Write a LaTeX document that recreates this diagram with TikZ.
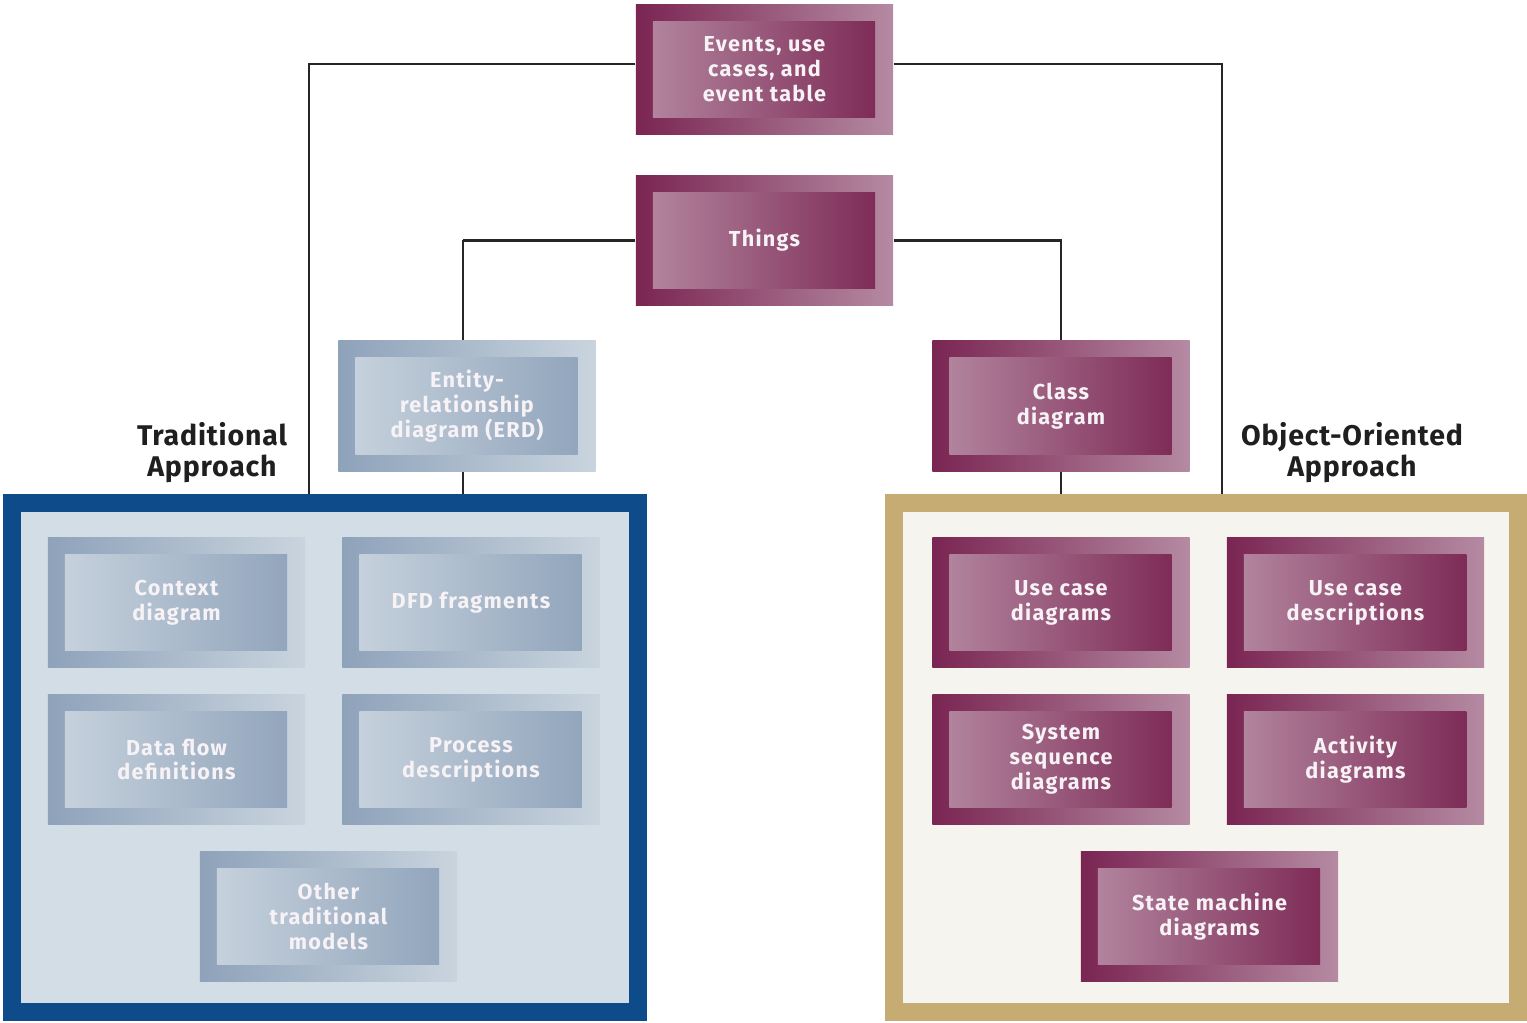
\documentclass[tikz,border=0pt]{standalone}
\usepackage{fontspec}
\setmainfont{Fira Sans}[LetterSpace=6]
\definecolor{pdark}{HTML}{7A2552}
\definecolor{plight}{HTML}{B58AA2}
\definecolor{bdark}{HTML}{8EA2BA}
\definecolor{blight}{HTML}{C9D4DE}
\definecolor{tradblue}{HTML}{0D4B8B}
\definecolor{tradfill}{HTML}{D3DDE6}
\definecolor{ootan}{HTML}{C6AB72}
\definecolor{oofill}{HTML}{F6F4EE}
\definecolor{txt}{HTML}{F7F2F5}
\begin{document}
\begin{tikzpicture}[x=0.02cm,y=-0.02cm,
  gbox/.style n args={2}{rectangle, minimum width=5.15cm, minimum height=2.62cm,
    inner sep=0pt, left color=#1, right color=#2, text=txt, align=center,
    font=\fontsize{12.3}{14.2}\selectfont\bfseries,
    path picture={\shade[left color=#2, right color=#1]
      ([shift={(0.34cm,-0.34cm)}]path picture bounding box.north west) rectangle
      ([shift={(-0.36cm,0.34cm)}]path picture bounding box.south east);}},
  pbox/.style={gbox={pdark}{plight}},
  bbox/.style={gbox={bdark}{blight}},
  frame/.style={rectangle, line width=0.37cm, minimum width=12.52cm, minimum height=10.18cm, inner sep=0pt},
  conn/.style={line width=1.4pt, black!85},
  title/.style={font=\fontsize{16.2}{17.6}\selectfont\bfseries\addfontfeatures{LetterSpace=3}, align=center, text=black!88}
]
\useasboundingbox[fill=white] (0,0) rectangle (1527,1023);

\node[frame, draw=tradblue, fill=tradfill] (trad) at (325,757.5) {};
\node[frame, draw=ootan, fill=oofill, minimum width=12.48cm] (oo) at (1206,757.5) {};

\node[pbox] (events) at (764.5,69.5) {Events, use\\cases, and\\event table};
\node[pbox] (things) at (764.5,240.5) {Things};
\node[bbox] (erd) at (467,406) {Entity-\\relationship\\diagram (ERD)};
\node[pbox] (class) at (1061,406) {Class\\diagram};

\node[bbox] (context) at (176.5,602.5) {Context\\diagram};
\node[bbox] (dfd) at (471,602.5) {DFD fragments};
\node[bbox] (dataflow) at (176.5,759.5) {Data flow\\definitions};
\node[bbox] (process) at (471,759.5) {Process\\descriptions};
\node[bbox] (other) at (328.5,916.5) {Other\\traditional\\models};

\node[pbox] (ucd) at (1061,602.5) {Use case\\diagrams};
\node[pbox] (ucdesc) at (1355.5,602.5) {Use case\\descriptions};
\node[pbox] (ssd) at (1061,759.5) {System\\sequence\\diagrams};
\node[pbox] (act) at (1355.5,759.5) {Activity\\diagrams};
\node[pbox] (smd) at (1209.5,916.5) {State machine\\diagrams};

\node[title] (tradlabel) at (212,453) {Traditional\\Approach};
\node[title] (oolabel) at (1352,453) {Object-Oriented\\Approach};

\coordinate (tA) at (309,494);
\coordinate (oA) at (1222,494);
\draw[conn] ([yshift=0.11cm]events.west) -| (tA);
\draw[conn] ([yshift=0.11cm]events.east) -| (oA);
\draw[conn] ([xshift=-0.08cm]erd.north |- things.west) -- (things.west);
\draw[conn] ([xshift=-0.08cm]erd.north |- things.west) -- ([xshift=-0.08cm]erd.north);
\draw[conn] (things.east) -| (class.north);
\draw[conn] ([xshift=-0.08cm]erd.south) -- ([xshift=-0.08cm]erd.south |- tA);
\draw[conn] (class.south) -- (class.south |- oA);
\end{tikzpicture}
\end{document}
